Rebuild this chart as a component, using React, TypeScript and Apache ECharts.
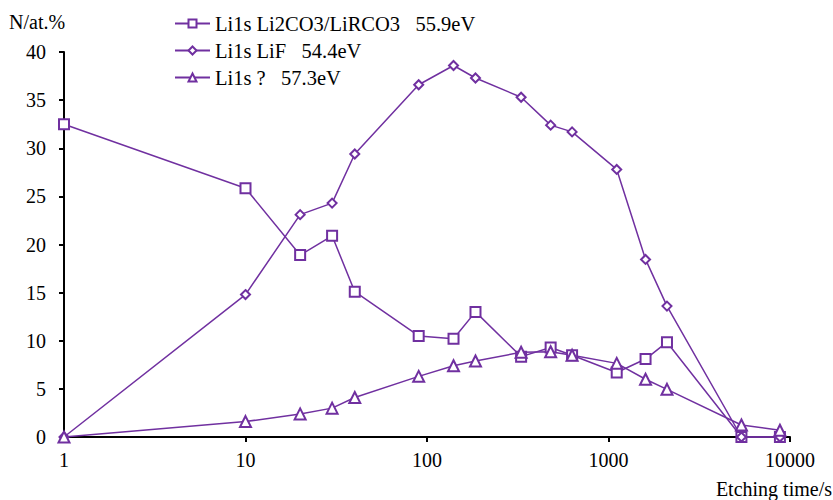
import React, { useEffect, useRef } from "react";
import * as echarts from "echarts";

const times = [1, 10, 20, 30, 40, 90, 140, 185, 330, 480, 630, 1110, 1600, 2100, 5400, 8800];
const li2co3 = [32.5, 25.85, 18.9, 20.9, 15.1, 10.5, 10.2, 13.0, 8.35, 9.3, 8.5, 6.7, 8.1, 9.85, 0, 0];
const lif = [0, 14.8, 23.1, 24.3, 29.4, 36.6, 38.6, 37.3, 35.3, 32.4, 31.7, 27.8, 18.45, 13.6, 0, 0];
const unknown = [0, 1.6, 2.4, 3.0, 4.1, 6.3, 7.4, 7.9, 8.8, 8.85, 8.5, 7.65, 6.0, 4.95, 1.25, 0.7];
const seriesNames = [
  "Li1s Li2CO3/LiRCO3   55.9eV",
  "Li1s LiF   54.4eV",
  "Li1s ?   57.3eV",
];

const PURPLE = "#7030A0";
const FONT = "Liberation Serif";

export default function App() {
  const ref = useRef<HTMLDivElement>(null);
  useEffect(() => {
    const chart = echarts.init(ref.current!, null, { renderer: "svg" });
    const mk = (name: string, vals: number[], symbol: string, size: number) => ({
      name,
      type: "line",
      data: times.map((t, i) => [t, vals[i]]),
      symbol,
      symbolSize: size,
      showAllSymbol: true,
      lineStyle: { color: PURPLE, width: 1.5 },
      itemStyle: { color: "#ffffff", borderColor: PURPLE, borderWidth: 2 },
      clip: false,
    });
    chart.setOption({
      animation: false,
      backgroundColor: "#ffffff",
      textStyle: { fontFamily: FONT },
      grid: { left: 64, right: 43, top: 52, bottom: 63 },
      legend: {
        orient: "vertical",
        left: 169,
        top: 8,
        itemWidth: 35,
        itemHeight: 10,
        itemGap: 6,
        textStyle: { fontFamily: FONT, fontSize: 20.5, color: "#000" },
        data: seriesNames,
      },
      xAxis: {
        type: "log",
        logBase: 10,
        min: 1,
        max: 10000,
        axisLine: { lineStyle: { color: "#000", width: 2 } },
        axisTick: { show: true, inside: false, length: 5, lineStyle: { color: "#000", width: 2 } },
        minorTick: { show: false },
        splitLine: { show: false },
        axisLabel: {
          fontFamily: FONT,
          fontSize: 20,
          color: "#000",
          margin: 13,
          formatter: (v: number) => String(Math.round(v)),
        },
      },
      yAxis: {
        type: "value",
        min: 0,
        max: 40,
        interval: 5,
        axisLine: { show: true, lineStyle: { color: "#000", width: 2 } },
        axisTick: { show: true, length: 5, lineStyle: { color: "#000", width: 2 } },
        splitLine: { show: false },
        axisLabel: { fontFamily: FONT, fontSize: 20, color: "#000", margin: 18 },
      },
      graphic: [
        {
          type: "text",
          left: 9,
          top: 12,
          style: { text: "N/at.%", fontFamily: FONT, fontSize: 20, fill: "#000" },
        },
        {
          type: "text",
          right: 1,
          top: 479,
          style: { text: "Etching time/s", fontFamily: FONT, fontSize: 20, fill: "#000" },
        },
      ],
      series: [
        mk(seriesNames[0], li2co3, "rect", 10),
        mk(seriesNames[1], lif, "diamond", 9),
        mk(seriesNames[2], unknown, "triangle", 11),
      ],
    });
    return () => chart.dispose();
  }, []);
  return <div ref={ref} style={{ width: 833, height: 500, position: "absolute", left: 0, top: 0 }} />;
}
